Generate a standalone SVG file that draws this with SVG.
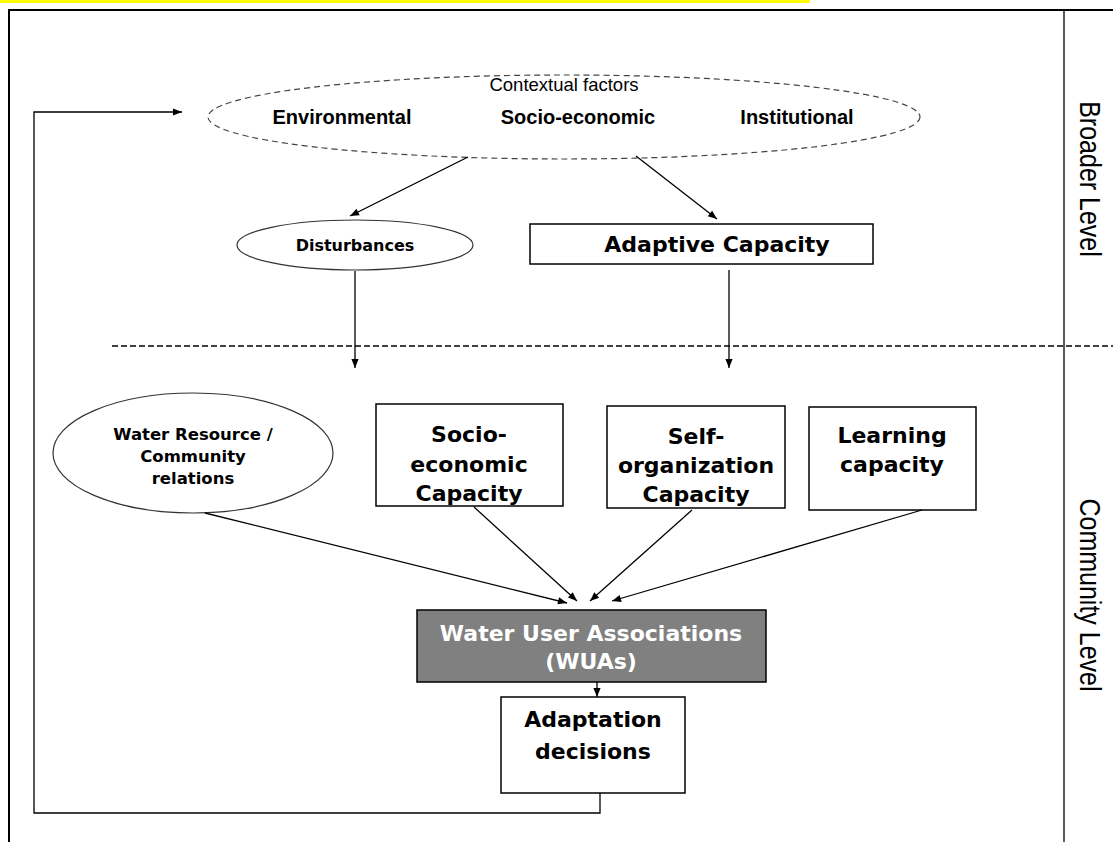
<svg xmlns="http://www.w3.org/2000/svg" width="1113" height="842" viewBox="0 0 1113 842">
<style>
.ln{stroke:#000;stroke-width:1.3;fill:none}
.box{fill:#fff;stroke:#000;stroke-width:1.5}
.t{font-family:Tahoma,"DejaVu Sans",sans-serif;font-weight:bold;text-anchor:middle;fill:#000}
.b{font-size:22px}
.w{fill:#fff}
.a{font-family:"Liberation Sans",Arial,sans-serif;text-anchor:middle;fill:#000}
</style>
<defs>
<marker id="ar" viewBox="0 0 10 10" refX="10" refY="5" markerWidth="10" markerHeight="9" markerUnits="userSpaceOnUse" orient="auto">
<path d="M0,1 L10,5 L0,9 Z" fill="#000"/>
</marker>
</defs>
<rect x="0" y="0" width="810" height="3" fill="#ffff00"/>
<g id="frame">
<path d="M9,842 V10 H1113" fill="none" stroke="#000" stroke-width="2"/>
<line x1="1064" y1="10" x2="1064" y2="842" stroke="#000" stroke-width="1.3"/>
<line x1="112" y1="346" x2="1113" y2="346" stroke="#000" stroke-width="1.3" stroke-dasharray="6,3"/>
</g>
<g id="contextual">
<ellipse cx="564" cy="117" rx="356" ry="42" fill="none" stroke="#444" stroke-width="1.2" stroke-dasharray="6,4"/>
<text class="a" x="564" y="91" font-size="18.5">Contextual factors</text>
<text class="a" x="342" y="124" font-size="20" font-weight="bold">Environmental</text>
<text class="a" x="578" y="124" font-size="20" font-weight="bold">Socio-economic</text>
<text class="a" x="797" y="124" font-size="20" font-weight="bold">Institutional</text>
</g>
<g id="disturbances">
<ellipse cx="355" cy="245" rx="118" ry="25" fill="#fff" stroke="#333" stroke-width="1.2"/>
<text class="t" x="355" y="251" font-size="16">Disturbances</text>
</g>
<g id="adaptive">
<rect class="box" x="530" y="224" width="343" height="40"/>
<text class="t b" x="717" y="252">Adaptive Capacity</text>
</g>
<g id="waterres">
<ellipse cx="193" cy="453" rx="140" ry="60" fill="#fff" stroke="#333" stroke-width="1.2"/>
<text class="t" x="193" y="440" font-size="16.5">Water Resource /</text>
<text class="t" x="193" y="462" font-size="16.5">Community</text>
<text class="t" x="193" y="484" font-size="16.5">relations</text>
</g>
<g id="socio">
<rect class="box" x="376" y="404" width="187" height="102"/>
<text class="t b" x="469" y="442">Socio-</text>
<text class="t b" x="469" y="472">economic</text>
<text class="t b" x="469" y="501">Capacity</text>
</g>
<g id="selforg">
<rect class="box" x="607" y="406" width="178" height="102"/>
<text class="t b" x="696" y="444">Self-</text>
<text class="t b" x="696" y="473">organization</text>
<text class="t b" x="696" y="502">Capacity</text>
</g>
<g id="learning">
<rect class="box" x="809" y="407" width="167" height="103"/>
<text class="t b" x="892" y="443">Learning</text>
<text class="t b" x="892" y="472">capacity</text>
</g>
<g id="wua">
<rect x="417" y="610" width="349" height="72" fill="#808080" stroke="#000" stroke-width="1.5"/>
<text class="t b w" x="591" y="641">Water User Associations</text>
<text class="t b w" x="591" y="669">(WUAs)</text>
</g>
<g id="decisions">
<rect class="box" x="501" y="697" width="184" height="96"/>
<text class="t b" x="593" y="727">Adaptation</text>
<text class="t b" x="593" y="759">decisions</text>
</g>
<g id="connectors">
<line class="ln" x1="468" y1="157" x2="350" y2="216" marker-end="url(#ar)"/>
<line class="ln" x1="636" y1="156" x2="717" y2="219" marker-end="url(#ar)"/>
<line class="ln" x1="355" y1="271" x2="355" y2="368" marker-end="url(#ar)"/>
<line class="ln" x1="729" y1="270" x2="729" y2="368" marker-end="url(#ar)"/>
<line class="ln" x1="205" y1="513" x2="567" y2="603" marker-end="url(#ar)"/>
<line class="ln" x1="474" y1="507" x2="577" y2="601" marker-end="url(#ar)"/>
<line class="ln" x1="692" y1="510" x2="590" y2="601" marker-end="url(#ar)"/>
<line class="ln" x1="922" y1="510" x2="612" y2="601" marker-end="url(#ar)"/>
<line class="ln" x1="597" y1="682" x2="597" y2="697" marker-end="url(#ar)"/>
<path class="ln" d="M600,793 V813 H34 V112 H182" marker-end="url(#ar)"/>
</g>
<g id="levels">
<text class="a" font-size="25" transform="translate(1080,179) rotate(90) scale(1,1.2)">Broader Level</text>
<text class="a" font-size="25" transform="translate(1080,595) rotate(90) scale(1,1.2)">Community Level</text>
</g>
</svg>
